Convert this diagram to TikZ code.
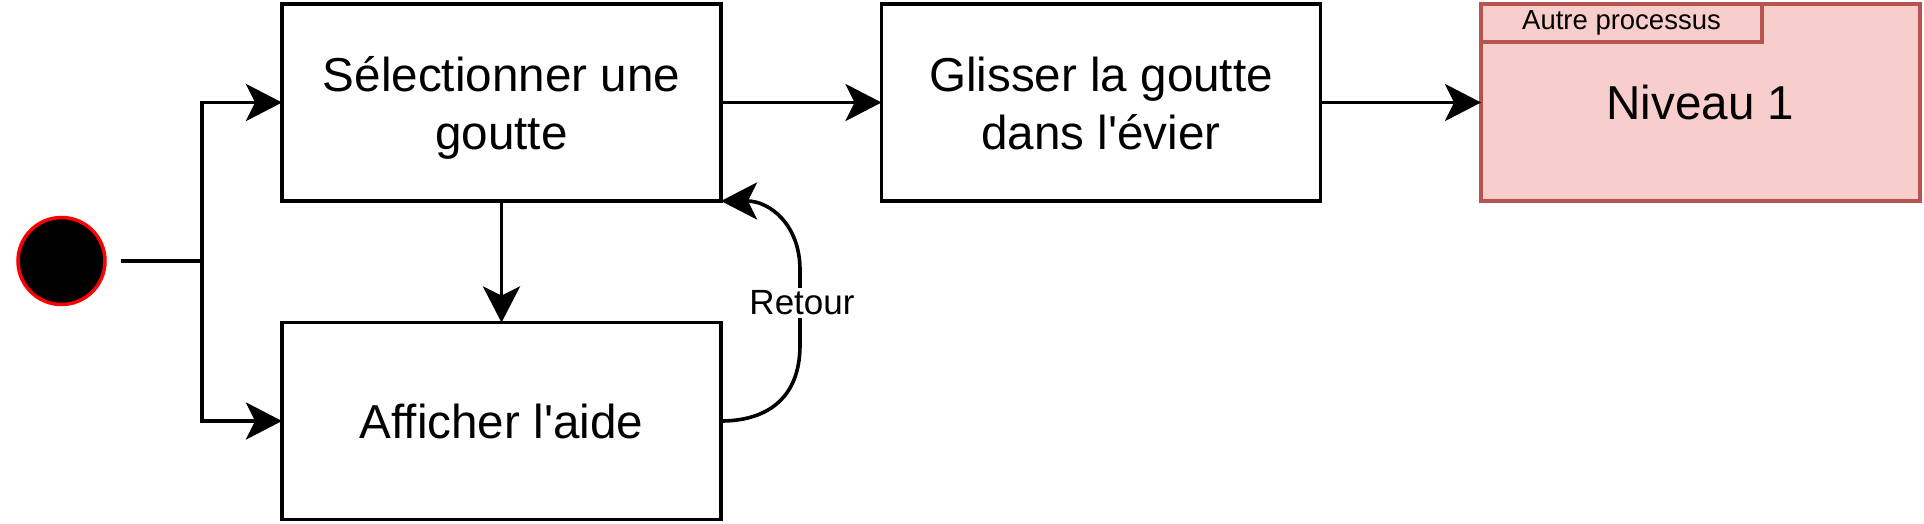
\documentclass[tikz,border=0pt]{standalone}
\usepackage{fontspec}
\setmainfont{Liberation Sans}
\usetikzlibrary{arrows.meta}
\definecolor{pinkfill}{HTML}{F8CECC}
\definecolor{pinkline}{HTML}{B85450}
\newcommand{\twolines}[2]{\raisebox{0pt}[\dimexpr\height+12pt\relax][\depth]{\begin{tabular}{@{}c@{}}#1\\#2\end{tabular}}}
\begin{document}
\begin{tikzpicture}[x=1pt,y=-1pt,
  box/.style={draw=black, line width=3.6pt, minimum width=439pt, minimum height=197pt, align=center, inner sep=0pt, outer sep=0pt, font=\fontsize{47.6}{58}\selectfont},
  conn/.style={line width=3.6pt, -{Stealth[length=36pt,width=37pt,inset=9pt]}},
  plain/.style={line width=3.6pt},
]
\useasboundingbox (0,0) rectangle (1924,524);

\node[box] (sel) at (501.5,102.5) {\twolines{Sélectionner une}{goutte}};
\node[box] (aide) at (501.5,421) {Afficher l\textquotesingle aide};
\node[box] (gli) at (1101,102.5) {\twolines{Glisser la goutte}{dans l\textquotesingle évier}};
\node[box, draw=pinkline, fill=pinkfill] (niv) at (1700.5,102.5) {Niveau 1};
\node[draw=pinkline, fill=pinkfill, line width=3.6pt, minimum width=281pt, minimum height=38pt, inner sep=0pt, outer sep=0pt, anchor=north west, font=\fontsize{27.5}{33}\selectfont] (tab) at (niv.north west) {Autre processus};

\node[circle, fill=black, draw=red, line width=3.5pt, minimum size=87pt, inner sep=0pt, outer sep=0pt] (init) at (61.5,261) {};
\coordinate (fork) at (202,261);

\draw[plain, shorten <=15.5pt] (init.east) -- (fork);
\draw[conn] (fork) |- (sel.west);
\draw[conn] (fork) |- (aide.west);
\draw[conn] (sel.south) -- (aide.north);
\draw[conn] (sel.east) -- (gli.west);
\draw[conn] (gli.east) -- (niv.west);

\draw[conn] (aide.east) .. controls (765,421) and (800,400) .. (800,345) -- (800,270) .. controls (800,225) and (770,201) .. (sel.south east);
\node[fill=white, inner sep=3pt, font=\fontsize{35}{42}\selectfont] (ret) at (802,303) {Retour};
\end{tikzpicture}
\end{document}
